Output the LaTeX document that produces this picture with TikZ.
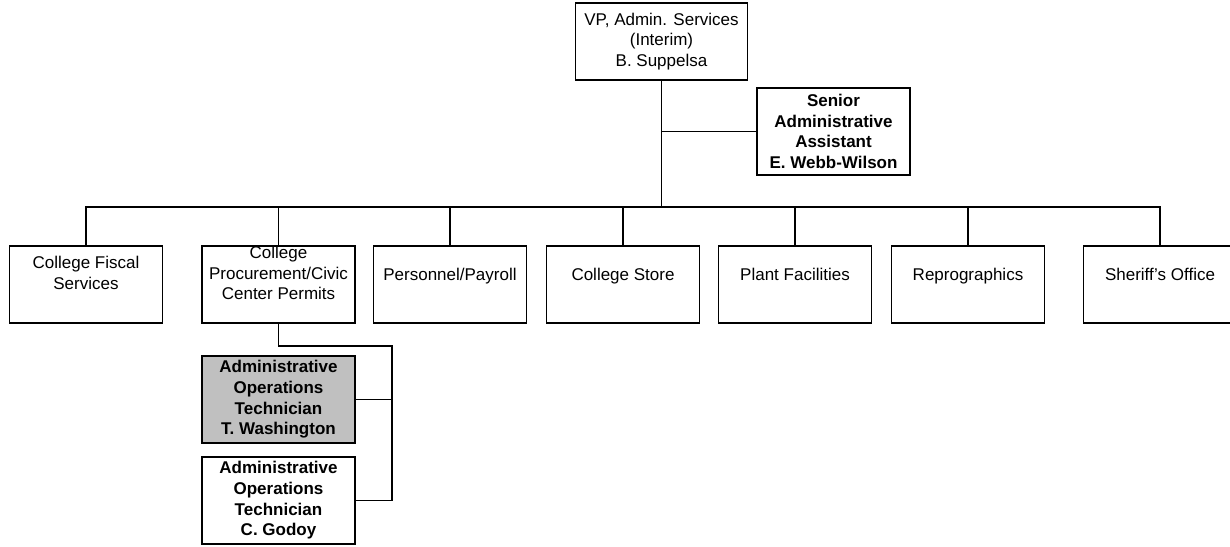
\documentclass[tikz,border=0pt]{standalone}
\usepackage{fontspec}
\setmainfont{Liberation Sans}
\begin{document}
\begin{tikzpicture}[x=1pt,y=-1pt,
  line width=1.1pt,
  box/.style={draw=black, rectangle, inner sep=0pt, minimum width=153pt, minimum height=77pt, align=center,
    font=\fontsize{17pt}{20.7pt}\selectfont},
  boldbox/.style={box, font=\fontsize{17pt}{20.7pt}\selectfont\bfseries, minimum height=87pt},
  txt/.style={inner sep=0pt, align=center, font=\fontsize{17pt}{20.7pt}\selectfont,
    execute at begin node=\strut, execute at end node=\strut},
  conn/.style={draw=black, line width=1.1pt}]
\useasboundingbox (0,0) rectangle (1230,546);
\fill[white] (0,0) rectangle (1230,546);

% top
\node[box, minimum width=172pt] (vp) at (661.5,41.5) {VP, Admin. Services\\(Interim)\\B. Suppelsa};
\node[boldbox] (sen) at (833.5,131.5) {Senior\\Administrative\\Assistant\\E. Webb-Wilson};

% bottom row boxes
\node[box] (b1) at (86,284.5) {};
\node[box] (b2) at (278.5,284.5) {};
\node[box] (b3) at (450,284.5) {};
\node[box] (b4) at (623,284.5) {};
\node[box] (b5) at (795,284.5) {};
\node[box] (b6) at (968,284.5) {};
\node[box] (b7) at (1160,284.5) {};

\node[txt] (t1) at (86,276) {College Fiscal\\Services};
\node[txt] (t2) at (278.5,276) {College\\Procurement/Civic\\Center Permits};
\node[txt] (t3) at (450,276) {Personnel/Payroll};
\node[txt] (t4) at (623,276) {College Store};
\node[txt] (t5) at (795,276) {Plant Facilities};
\node[txt] (t6) at (968,276) {Reprographics};
\node[txt] (t7) at (1160,276) {Sheriff’s Office};

% sub boxes
\node[boldbox, fill={rgb,255:red,192;green,192;blue,192}] (wash) at (278.5,399.5) {Administrative\\Operations\\Technician\\T. Washington};
\node[boldbox] (god) at (278.5,500.5) {Administrative\\Operations\\Technician\\C. Godoy};

% connectors
\coordinate (j) at (661.5,207);
\coordinate (k) at (392,346);
\draw[conn] (vp.south) -- (vp.south |- j);
\draw[conn] (sen.west) -- (sen.west -| vp.south);
\draw[conn] (b1.north) |- (b7.north |- j) -- (b7.north);
\foreach \b in {b2,b3,b4,b5,b6}{
  \draw[conn] (\b.north) -- (\b.north |- j);
}
\draw[conn] (b2.south) |- (k) -- (k |- god.east) -- (god.east);
\draw[conn] (wash.east) -- (wash.east -| k);
\end{tikzpicture}
\end{document}
